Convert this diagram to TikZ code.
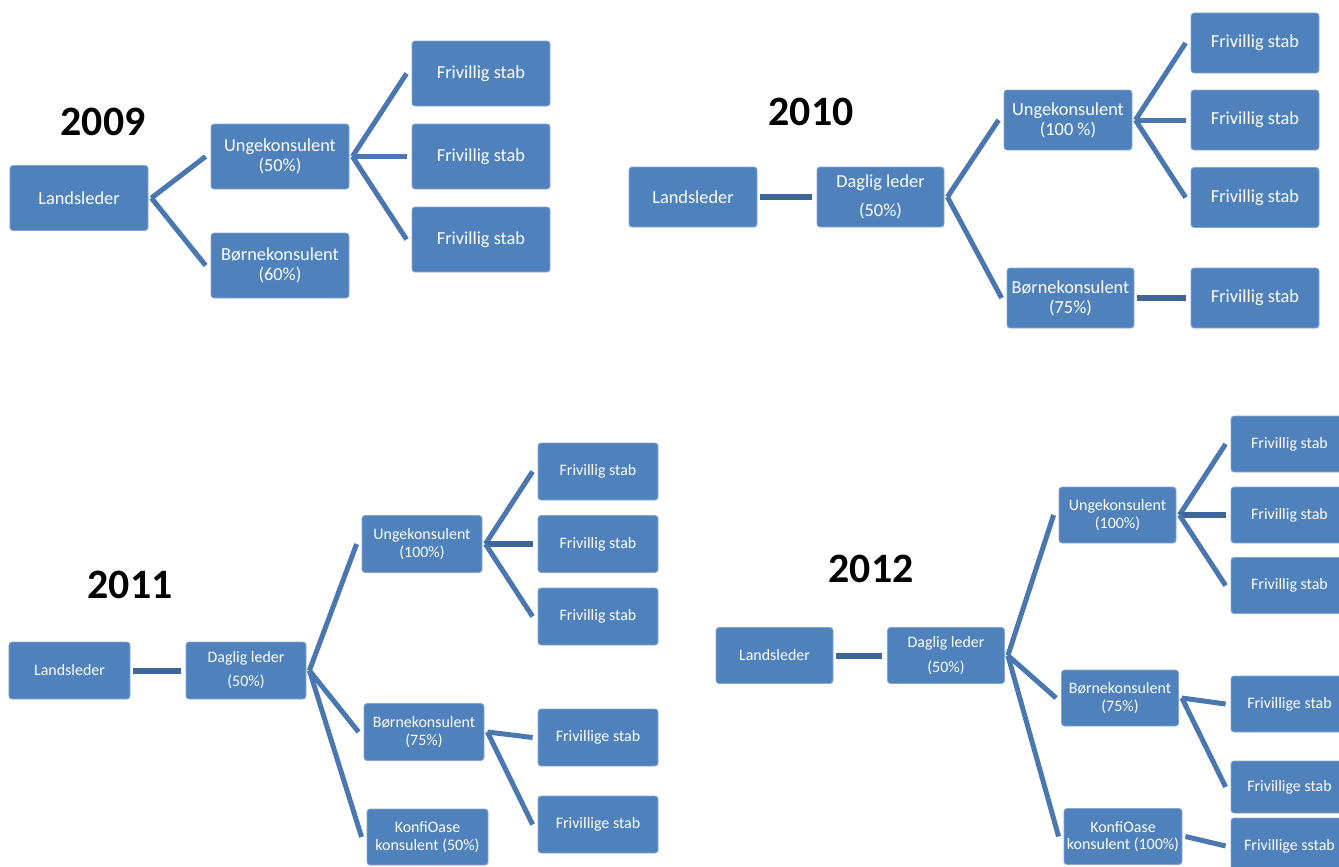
\documentclass[tikz,border=0pt]{standalone}
\usepackage{fontspec}
\setmainfont{Carlito}
\usetikzlibrary{calc}
\definecolor{boxblue}{HTML}{4F81BD}
\definecolor{boxedge}{HTML}{86A6D2}
\definecolor{linkblue}{HTML}{4A77B0}
\definecolor{darkblue}{HTML}{3F6699}
\tikzset{
  box/.style={fill=boxblue, draw=boxedge, line width=0.8bp, rounded corners=3bp,
    text=white, inner sep=0pt, align=center},
  bigtxt/.style={font=\fontsize{18.4}{20}\selectfont},
  smalltxt/.style={font=\fontsize{16}{17.5}\selectfont},
  wA/.style={minimum width=138bp, minimum height=65bp},
  wB/.style={minimum width=128bp, minimum height=60bp},
  wC/.style={minimum width=120bp, minimum height=57bp},
  wD/.style={minimum width=117bp, minimum height=56bp},
  link/.style={draw=linkblue, line width=5bp},
  hlink/.style={draw=darkblue, line width=6bp},
  year/.style={font=\fontsize{42}{42}\selectfont\bfseries, text=black, inner sep=0pt}
}
\newcommand\conn[3][link]{\draw[#1] ($(#2.east)+(3,0)$) -- ($(#3.west)+(-5,0)$);}
\begin{document}
\begin{tikzpicture}[x=1bp, y=-1bp]
\useasboundingbox (0,0) rectangle (1339,866);
\clip (0,0) rectangle (1339,866);

% ---------------- 2009 ----------------
\node[year] (Y09) at (103,122) {2009};
\node[box,bigtxt,wA] (L09) at (79,198) {Landsleder};
\node[box,bigtxt,wA] (U09) at (280,156.5) {Ungekonsulent\\(50\%)};
\node[box,bigtxt,wA] (B09) at (280,265.5) {Børnekonsulent\\(60\%)};
\node[box,bigtxt,wA] (F09a) at (481,73.5) {Frivillig stab};
\node[box,bigtxt,wA] (F09b) at (481,156.5) {Frivillig stab};
\node[box,bigtxt,wA] (F09c) at (481,239.5) {Frivillig stab};
\conn{L09}{U09}
\conn{L09}{B09}
\conn{U09}{F09a}
\conn{U09}{F09b}
\conn{U09}{F09c}

% ---------------- 2010 ----------------
\node[year] (Y10) at (811,112) {2010};
\node[box,bigtxt,wB] (L10) at (693,197) {Landsleder};
\node[box,bigtxt,wB,minimum width=127bp] (D10) at (880.5,197) {Daglig leder\\[9bp](50\%)};
\node[box,bigtxt,wB] (U10) at (1068,120) {Ungekonsulent\\(100 \%)};
\node[box,bigtxt,wB,minimum width=127bp] (B10) at (1070.5,298) {Børnekonsulent\\(75\%)};
\node[box,bigtxt,wB] (F10a) at (1255,43) {Frivillig stab};
\node[box,bigtxt,wB] (F10b) at (1255,120) {Frivillig stab};
\node[box,bigtxt,wB] (F10c) at (1255,197.5) {Frivillig stab};
\node[box,bigtxt,wB] (F10d) at (1255,298) {Frivillig stab};
\conn[hlink]{L10}{D10}
\conn{D10}{U10}
\conn{D10}{B10}
\conn{U10}{F10a}
\conn{U10}{F10b}
\conn{U10}{F10c}
\conn[hlink]{B10}{F10d}

% ---------------- 2011 ----------------
\node[year] (Y11) at (130,585) {2011};
\node[box,smalltxt,wC,minimum width=121bp] (L11) at (69.5,670.5) {Landsleder};
\node[box,smalltxt,wC] (D11) at (246,670.5) {Daglig leder\\[6.5bp](50\%)};
\node[box,smalltxt,wC] (U11) at (422,544) {Ungekonsulent\\(100\%)};
\node[box,smalltxt,wC] (B11) at (424,732) {Børnekonsulent\\(75\%)};
\node[box,smalltxt,wC,minimum width=121bp,minimum height=56bp] (K11) at (427.5,837) {KonfiOase\\konsulent (50\%)};
\node[box,smalltxt,wC] (F11a) at (598,471.5) {Frivillig stab};
\node[box,smalltxt,wC] (F11b) at (598,544) {Frivillig stab};
\node[box,smalltxt,wC] (F11c) at (598,616.5) {Frivillig stab};
\node[box,smalltxt,wC] (G11a) at (598,737.5) {Frivillige stab};
\node[box,smalltxt,wC] (G11b) at (598,824.5) {Frivillige stab};
\conn[hlink]{L11}{D11}
\conn{D11}{U11}
\conn{D11}{B11}
\conn{D11}{K11}
\conn{U11}{F11a}
\conn[hlink]{U11}{F11b}
\conn{U11}{F11c}
\conn{B11}{G11a}
\conn{B11}{G11b}

% ---------------- 2012 ----------------
\node[year] (Y12) at (871,569) {2012};
\node[box,smalltxt,wD] (L12) at (774.5,655.5) {Landsleder};
\node[box,smalltxt,wD] (D12) at (946,655.5) {Daglig leder\\[7.5bp](50\%)};
\node[box,smalltxt,wD] (U12) at (1117.5,515) {Ungekonsulent\\(100\%)};
\node[box,smalltxt,wD] (B12) at (1120,698) {Børnekonsulent\\(75\%)};
\node[box,smalltxt,wD,minimum width=118bp] (K12) at (1123,836.5) {KonfiOase\\konsulent (100\%)};
\node[box,smalltxt,wD] (F12a) at (1289.5,444) {Frivillig stab};
\node[box,smalltxt,wD] (F12b) at (1289.5,515) {Frivillig stab};
\node[box,smalltxt,wD] (F12c) at (1289.5,585.5) {Frivillig stab};
\node[box,smalltxt,wD] (G12a) at (1289.5,704) {Frivillige stab};
\node[box,smalltxt,wD,minimum height=52bp] (G12b) at (1289.5,787) {Frivillige stab};
\node[box,smalltxt,wD] (G12c) at (1289.5,846) {Frivillige sstab};
\conn[hlink]{L12}{D12}
\conn{D12}{U12}
\conn{D12}{B12}
\conn{D12}{K12}
\conn{U12}{F12a}
\conn[hlink]{U12}{F12b}
\conn{U12}{F12c}
\conn{B12}{G12a}
\conn{B12}{G12b}
\conn{K12}{G12c}
\end{tikzpicture}
\end{document}
